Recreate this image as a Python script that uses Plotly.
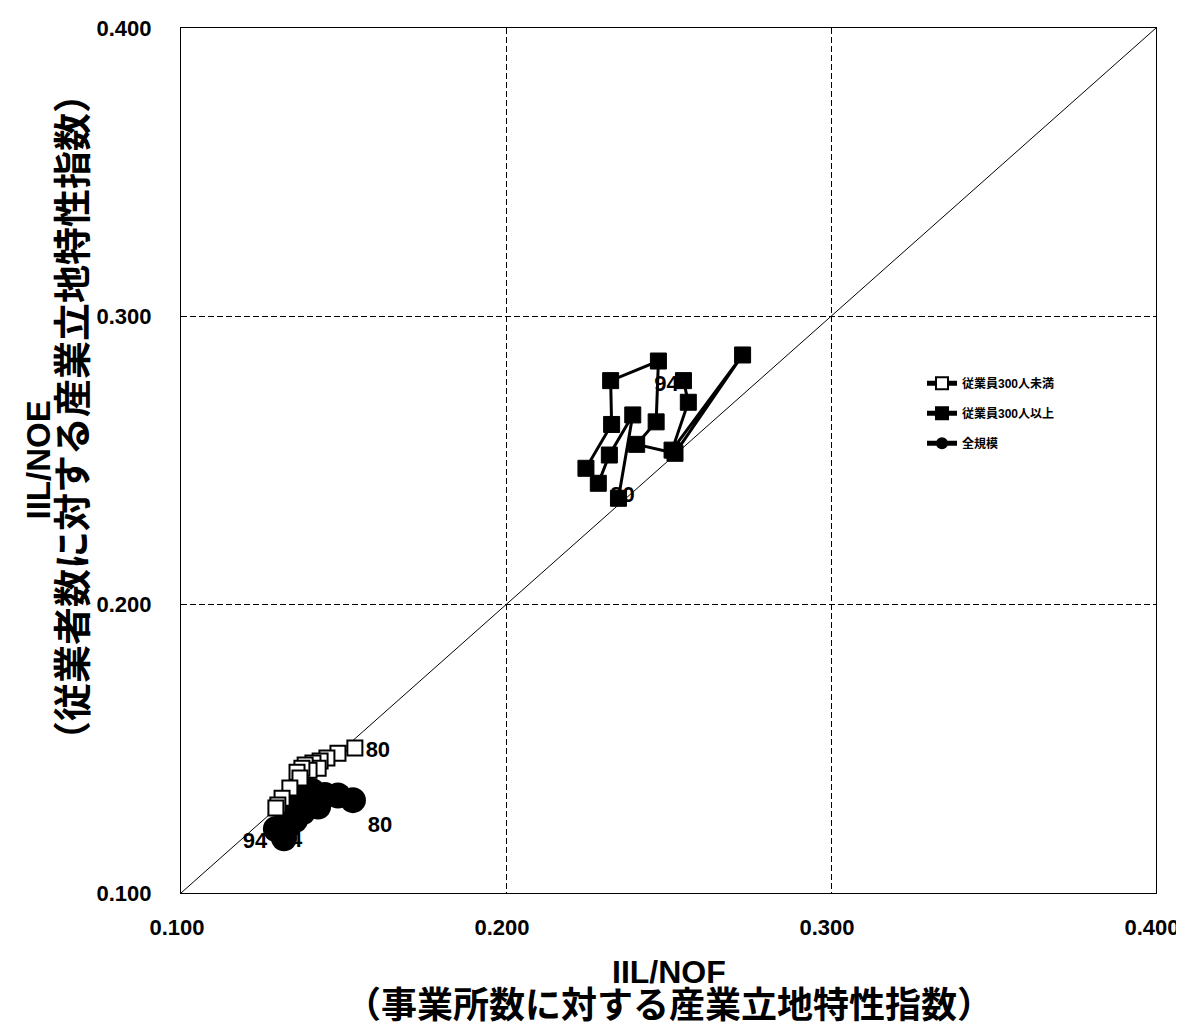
import plotly.graph_objects as go

# ---------------- data ----------------
years = list(range(1980, 1995))

# 従業員300人未満 (open squares)
small_x = [0.1535, 0.1483, 0.1449, 0.1428, 0.1406, 0.1422, 0.1382, 0.1394,
           0.1372, 0.1357, 0.1366, 0.1335, 0.1311, 0.1298, 0.1292]
small_y = [0.1503, 0.1485, 0.1468, 0.1458, 0.1451, 0.1433, 0.1444, 0.1426,
           0.1433, 0.1419, 0.1399, 0.1364, 0.1329, 0.1305, 0.1295]

# 従業員300人以上 (filled squares)
large_x = [0.2346, 0.2390, 0.2318, 0.2284, 0.2246, 0.2325, 0.2322, 0.2469,
           0.2462, 0.2402, 0.2520, 0.2728, 0.2511, 0.2561, 0.2546]
large_y = [0.2369, 0.2658, 0.2519, 0.2421, 0.2473, 0.2625, 0.2777, 0.2845,
           0.2634, 0.2556, 0.2525, 0.2866, 0.2536, 0.2702, 0.2777]

# 全規模 (filled circles)
all_x = [0.1529, 0.1483, 0.1443, 0.1422, 0.1403, 0.1382, 0.1366, 0.1375,
         0.1360, 0.1351, 0.1335, 0.1320, 0.1305, 0.1292, 0.1317]
all_y = [0.1322, 0.1338, 0.1340, 0.1300, 0.1354, 0.1292, 0.1357, 0.1281,
         0.1300, 0.1253, 0.1246, 0.1232, 0.1218, 0.1222, 0.1190]

series_names = ["従業員300人未満", "従業員300人以上", "全規模"]
tick_vals = [0.1, 0.2, 0.3, 0.4]
tick_text = ["0.100", "0.200", "0.300", "0.400"]

# ---------------- layout geometry ----------------
# the page body has an 8px default margin; the figure is sized to compensate
W, H = 1176, 1018
ML, MR, MT, MB = 173, 28, 20, 133
XR = [0.1, 0.4]
YR = [0.1, 0.4]
px_x = (W - ML - MR) / (XR[1] - XR[0])
px_y = (H - MT - MB) / (YR[1] - YR[0])

FONT = "Liberation Sans, Arial, Noto Sans CJK JP"

# year labels: (series x, series y, index, dx px, dy px)
label_specs = [
    (large_x, large_y, 0, 4, -2),
    (large_x, large_y, 14, -17, 5),
    (small_x, small_y, 0, 23, 4),
    (small_x, small_y, 14, 14, 34),
    (all_x, all_y, 0, 27, 26),
    (all_x, all_y, 14, -29, 4),
]
lab_x = [sx[i] + dx / px_x for sx, sy, i, dx, dy in label_specs]
lab_y = [sy[i] - dy / px_y for sx, sy, i, dx, dy in label_specs]
lab_t = [str(years[i])[2:] for sx, sy, i, dx, dy in label_specs]

fig = go.Figure()

# diagonal reference line
fig.add_trace(go.Scatter(x=XR, y=YR, mode="lines",
                         line=dict(color="black", width=1),
                         showlegend=False, hoverinfo="skip"))

# year labels (drawn beneath markers)
fig.add_trace(go.Scatter(x=lab_x, y=lab_y, mode="text", text=lab_t,
                         textposition="middle center",
                         textfont=dict(family=FONT, size=22, color="black", weight="bold"),
                         showlegend=False, hoverinfo="skip"))

fig.add_trace(go.Scatter(
    x=all_x, y=all_y, mode="lines+markers", name=series_names[2],
    legendrank=3, legendgroup="c",
    line=dict(color="black", width=1.5),
    marker=dict(symbol="circle", size=26, color="black",
                line=dict(color="black", width=0))))

fig.add_trace(go.Scatter(
    x=small_x, y=small_y, mode="lines+markers", name=series_names[0],
    legendrank=1, legendgroup="a",
    line=dict(color="black", width=1.5),
    marker=dict(symbol="square", size=15, color="white",
                line=dict(color="black", width=2))))

fig.add_trace(go.Scatter(
    x=large_x, y=large_y, mode="lines+markers", name=series_names[1],
    legendrank=2, legendgroup="b",
    line=dict(color="black", width=3),
    marker=dict(symbol="square", size=16, color="black",
                line=dict(color="black", width=1))))

axis_common = dict(
    tickvals=tick_vals, ticktext=tick_text,
    showgrid=True, gridcolor="black", gridwidth=1, griddash="6px,3px",
    showline=True, linecolor="black", linewidth=1.2, mirror=True,
    ticks="", zeroline=False, automargin=False, ticklabeloverflow="allow",
    tickfont=dict(family=FONT, size=22, color="black", weight="bold"),
)

fig.update_layout(
    width=W, height=H,
    margin=dict(l=ML, r=MR, t=MT, b=MB, autoexpand=False),
    plot_bgcolor="white", paper_bgcolor="white",
    xaxis=dict(range=XR, ticklabelstandoff=14, ticklabelshift=-4, **axis_common),
    yaxis=dict(range=YR, ticklabelstandoff=24, **axis_common),
    legend=dict(x=0.760, y=0.606, xanchor="left", yanchor="top",
                bgcolor="rgba(0,0,0,0)", borderwidth=0,
                font=dict(family=FONT, size=12, color="black", weight="bold"),
                itemsizing="constant", tracegroupgap=11),
    showlegend=True,
)

ann_font = dict(family=FONT, color="black", weight="bold")
fig.add_annotation(text="IIL/NOF", xref="paper", yref="paper", x=0.5, y=0,
                   xanchor="center", yanchor="middle", yshift=-79,
                   showarrow=False, font=dict(size=32, **ann_font))
fig.add_annotation(text="（事業所数に対する産業立地特性指数）", xref="paper", yref="paper",
                   x=0.5, y=0, xanchor="center", yanchor="middle", yshift=-112,
                   showarrow=False, font=dict(size=36, **ann_font))
fig.add_annotation(text="IIL/NOE", xref="paper", yref="paper", x=0, y=0.5,
                   xanchor="center", yanchor="middle", xshift=-143, textangle=-90,
                   showarrow=False, font=dict(size=33, **ann_font))
fig.add_annotation(text="（従業者数に対する産業立地特性指数）", xref="paper", yref="paper",
                   x=0, y=0.5503, xanchor="center", yanchor="middle", xshift=-108,
                   textangle=-90, showarrow=False, font=dict(size=38, **ann_font))

fig.write_html("out.html")
